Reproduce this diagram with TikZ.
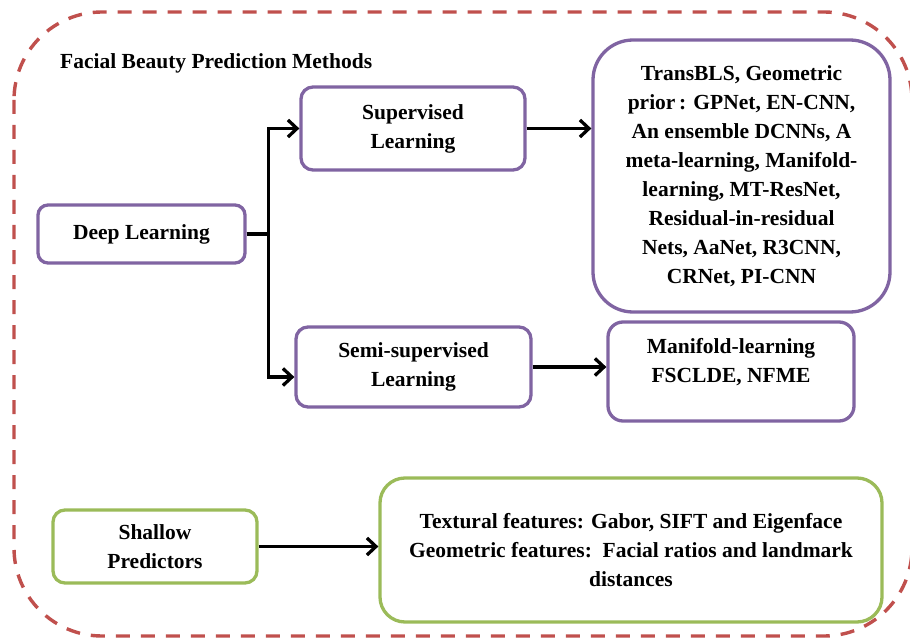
\documentclass[tikz,border=0pt]{standalone}
\usepackage{fontspec}
\setmainfont{Liberation Serif}
\usetikzlibrary{arrows.meta,calc}
\definecolor{frame}{RGB}{192,80,77}
\definecolor{purp}{RGB}{128,100,162}
\definecolor{grn}{RGB}{155,187,89}
\begin{document}
\begin{tikzpicture}[x=1pt,y=-1pt,
  every node/.style={font=\bfseries\fontsize{21.5}{29}\selectfont, align=center, inner sep=0pt},
  pbox/.style={draw=purp, line width=3.3pt, fill=white},
  gbox/.style={draw=grn, line width=3.3pt, fill=white},
  conn/.style={line width=3.3pt, -{Straight Barb[length=9pt,width=17pt,line width=3.3pt]}},
  outline/.style={draw=frame, line width=3.4pt, dash pattern=on 14pt off 11pt, rounded corners=88pt}]
\useasboundingbox (0,0) rectangle (910,639);
\begin{scope}
  \clip (0,0) rectangle (910,639);
  \draw[outline] (14,12) rectangle (912,636);
\end{scope}

\node[anchor=west] (title) at (60,63) {Facial Beauty Prediction Methods};

\node[pbox, rounded corners=10pt, minimum width=207pt, minimum height=58pt] (dl) at (141.5,234)
  {Deep Learning};
\node[pbox, rounded corners=12pt, minimum width=224pt, minimum height=83pt] (sup) at (413,128.5)
  {Supervised\\Learning};
\node[pbox, rounded corners=40pt, minimum width=297pt, minimum height=272pt] (big) at (741.5,176)
  {TransBLS, Geometric\\prior\,: GPNet, EN-CNN,\\An ensemble DCNNs, A\\meta-learning, Manifold-\\learning, MT-ResNet,\\Residual-in-residual\\Nets, AaNet, R3CNN,\\CRNet, PI-CNN};
\node[pbox, rounded corners=12pt, minimum width=235pt, minimum height=80pt] (semi) at (413.5,367)
  {Semi-supervised\\Learning};
\node[pbox, rounded corners=15pt, minimum width=246pt, minimum height=99pt] (man) at (731,371.5) {};
\node (mantext) at ([yshift=9.5pt]man.center) {Manifold-learning\\FSCLDE, NFME};
\node[gbox, rounded corners=12pt, minimum width=204pt, minimum height=73pt] (sha) at (155,546.5)
  {Shallow\\Predictors};
\node[gbox, rounded corners=25pt, minimum width=502pt, minimum height=144pt] (tex) at (631,550)
  {Textural features: Gabor, SIFT and Eigenface\\Geometric features:\ \ Facial ratios and landmark\\distances};

\draw[conn] (dl.east) -- ++(22,0) |- (sup.west);
\draw[conn] (dl.east) -- ++(22,0) |- ([yshift=-10pt]semi.west);
\draw[conn] (sup.east) -- (sup.east -| big.west);
\draw[conn] (semi.east) -- (semi.east -| man.west);
\draw[conn] (sha.east) -- (sha.east -| tex.west);
\end{tikzpicture}
\end{document}
